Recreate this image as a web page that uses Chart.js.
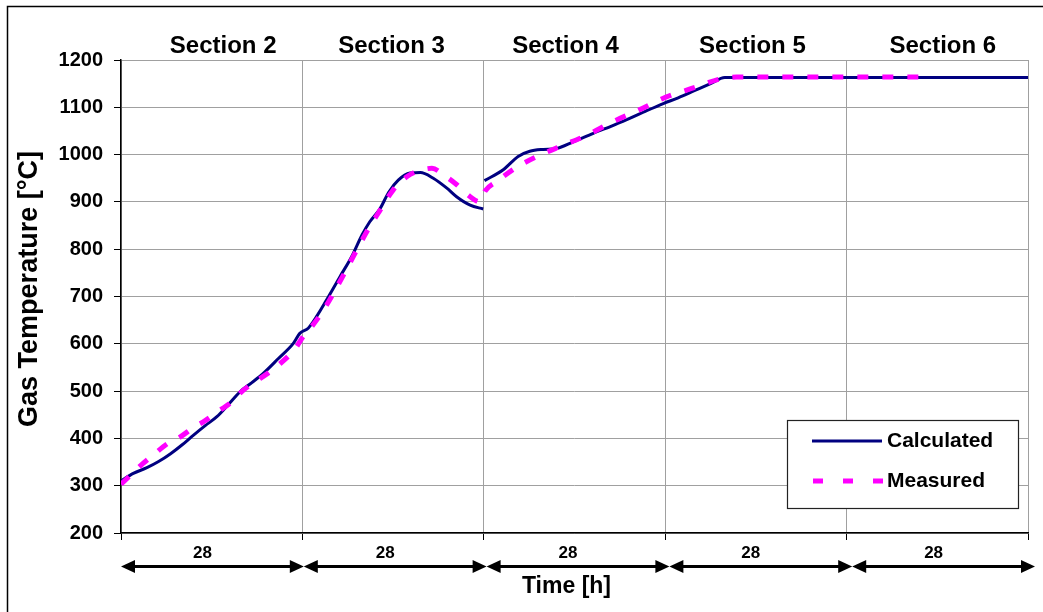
<!DOCTYPE html>
<html>
<head>
<meta charset="utf-8">
<script src="https://cdn.jsdelivr.net/npm/chart.js@4.4.1/dist/chart.umd.min.js"></script>
<style>
  html, body { margin: 0; padding: 0; background: #ffffff; }
  canvas { display: block; }
</style>
</head>
<body>
<canvas id="chart" width="1043" height="612"></canvas>
<script>
// ---- data ----
const sectionNames = ['Section 2', 'Section 3', 'Section 4', 'Section 5', 'Section 6'];
const sectionHours = [28, 28, 28, 28, 28];

const tempMin = 200;
const tempMax = 1200;
const tempStep = 100;

// calculated gas temperature (null marks the jump at the start of section 4)
const calcTime = [0, 1.9, 4, 5.8, 7.6, 9.4, 11.2, 13, 14.8, 16.6, 18.4, 20.2, 22, 24.3, 26.6, 27.6, 28.9, 30.3,
  31.7, 33.8, 35.6, 37.2, 38.4, 40, 41.3, 42.8, 44.6, 46.2, 48.2, 50.3, 51.8, 53.9, 55.9,
  56, 56.1, 59, 61.3, 63.1, 65.2, 67.2, 69.8, 72.9, 76, 78.6, 81, 83.7, 86, 88.5, 91, 93.2,
  100, 110, 120, 130, 140];
const calcTemp = [310, 326, 338, 351, 367, 386, 407, 427, 446, 472, 499, 518, 538, 569, 601, 622, 633, 660,
  692, 742, 784, 830, 858, 886, 920, 946, 961, 962, 950, 929, 911, 893, 885,
  null, 945, 968, 996, 1007, 1011, 1013, 1027, 1045, 1062, 1077, 1092, 1108, 1120, 1135, 1150, 1163,
  1163, 1163, 1163, 1163, 1163];

// measured gas temperature
const measTime = [0, 3.4, 5, 7.3, 8.8, 11.4, 12.7, 15.3, 16.8, 18.9, 20.4, 22.7, 24.3, 26.9, 28.1, 28.7,
  31.2, 34.6, 36.1, 38.4, 39.7, 42, 44.1, 46, 48, 50, 51.6, 53.9, 55.4, 56.2, 58.2, 60.8,
  64.7, 68.3, 71.9, 76, 79.9, 84.2, 88.6, 92.5, 95, 100, 110, 125];
const measTemp = [303, 347, 365, 390, 400, 425, 435, 460, 474, 502, 517, 538, 555, 590, 615, 624,
  670, 752, 791, 848, 876, 925, 953, 966, 971, 955, 939, 911, 900, 923, 945, 971,
  999, 1020, 1041, 1070, 1094, 1122, 1142, 1160, 1164, 1164, 1164, 1164];

// ---- derived ----
const toPoints = (xs, ys) => xs.map((t, i) => ({ x: t, y: ys[i] }));
const sectionBounds = sectionHours.reduce((acc, h) => { acc.push(acc[acc.length - 1] + h); return acc; }, [0]);
const totalHours = sectionBounds[sectionBounds.length - 1];

const FONT = "'Liberation Sans', Arial, Helvetica, sans-serif";
const GRID = '#a0a0a0';
const CALC_COLOR = '#000080';
const MEAS_COLOR = '#ff00ff';

// small horizontal nudges for the section headings
const headingNudge = [11.5, -1.5, -9, -3.5, 5.5];

function arrowHead(ctx, tipX, yy, dir) {
  ctx.beginPath();
  ctx.moveTo(tipX, yy);
  ctx.lineTo(tipX + dir * 14, yy - 6.5);
  ctx.lineTo(tipX + dir * 14, yy + 6.5);
  ctx.closePath();
  ctx.fill();
}

const decorations = {
  id: 'decorations',
  afterDraw(chart) {
    const { ctx, scales: { x } } = chart;
    ctx.save();

    // outer frame
    ctx.strokeStyle = '#000';
    ctx.lineWidth = 1.5;
    ctx.strokeRect(7.5, 6.5, 2000, 2000);

    ctx.fillStyle = '#000';

    // section headings
    ctx.font = 'bold 24px ' + FONT;
    ctx.textAlign = 'center';
    ctx.textBaseline = 'alphabetic';
    sectionNames.forEach((name, i) => {
      const cx = (x.getPixelForValue(sectionBounds[i]) + x.getPixelForValue(sectionBounds[i + 1])) / 2;
      ctx.fillText(name, cx + headingNudge[i], 53);
    });

    // duration arrows under the axis
    const ay = 566.5;
    const stretch = 7 / totalHours;
    const tip = v => x.getPixelForValue(v) + v * stretch;
    ctx.lineWidth = 3;
    ctx.strokeStyle = '#000';
    ctx.font = 'bold 17px ' + FONT;
    sectionHours.forEach((h, i) => {
      const x0 = tip(sectionBounds[i]);
      const x1 = tip(sectionBounds[i + 1]);
      ctx.beginPath();
      ctx.moveTo(x0 + 10, ay);
      ctx.lineTo(x1 - 10, ay);
      ctx.stroke();
      arrowHead(ctx, x0, ay, 1);
      arrowHead(ctx, x1, ay, -1);
      ctx.fillText(String(h), (x0 + x1) / 2 - 10, 558);
    });

    // x axis title
    ctx.font = 'bold 23px ' + FONT;
    ctx.fillText('Time [h]', 566.5, 593);

    // y axis title
    ctx.save();
    ctx.translate(37, 289);
    ctx.rotate(-Math.PI / 2);
    ctx.font = 'bold 27px ' + FONT;
    ctx.fillText('Gas Temperature [\u00B0C]', 0, 0);
    ctx.restore();

    // legend
    const lx = 787.5, ly = 420.5, lw = 231, lh = 88;
    ctx.fillStyle = '#fff';
    ctx.fillRect(lx, ly, lw, lh);
    ctx.strokeStyle = '#222';
    ctx.lineWidth = 1.2;
    ctx.strokeRect(lx, ly, lw, lh);

    const ds = chart.data.datasets;
    ctx.lineCap = 'butt';
    ctx.strokeStyle = ds[0].borderColor;
    ctx.lineWidth = ds[0].borderWidth;
    ctx.beginPath();
    ctx.moveTo(812, 441);
    ctx.lineTo(882, 441);
    ctx.stroke();

    ctx.strokeStyle = ds[1].borderColor;
    ctx.lineWidth = ds[1].borderWidth;
    ctx.setLineDash([10, 20]);
    ctx.beginPath();
    ctx.moveTo(813, 481);
    ctx.lineTo(883, 481);
    ctx.stroke();
    ctx.setLineDash([]);

    ctx.fillStyle = '#000';
    ctx.textAlign = 'left';
    ctx.font = 'bold 21px ' + FONT;
    ctx.fillText(ds[0].label, 887, 447);
    ctx.fillText(ds[1].label, 887, 487);

    ctx.restore();
  }
};

new Chart(document.getElementById('chart'), {
  type: 'line',
  data: {
    datasets: [
      {
        label: 'Calculated',
        data: toPoints(calcTime, calcTemp),
        borderColor: CALC_COLOR,
        borderWidth: 3,
        pointRadius: 0,
        spanGaps: false,
        cubicInterpolationMode: 'monotone',
        order: 1
      },
      {
        label: 'Measured',
        data: toPoints(measTime, measTemp),
        borderColor: MEAS_COLOR,
        borderWidth: 5,
        borderDash: [11, 14],
        borderCapStyle: 'butt',
        pointRadius: 0,
        cubicInterpolationMode: 'monotone',
        order: 0
      }
    ]
  },
  options: {
    responsive: false,
    animation: false,
    devicePixelRatio: 1,
    layout: { padding: { left: 0, top: 60, right: 15, bottom: 72 } },
    plugins: {
      legend: { display: false },
      tooltip: { enabled: false },
      title: { display: false }
    },
    scales: {
      x: {
        type: 'linear',
        min: 0,
        max: totalHours,
        ticks: { display: false, stepSize: sectionHours[0] },
        grid: { color: GRID, lineWidth: 1, drawTicks: true, tickLength: 7, tickColor: '#000', tickWidth: 1 },
        border: { color: '#000', width: 1.5 },
        afterFit(scale) { scale.height = 7; }
      },
      y: {
        min: tempMin,
        max: tempMax,
        ticks: {
          stepSize: tempStep,
          color: '#000',
          padding: 11,
          font: { family: FONT, weight: 'bold', size: 20 },
          callback: v => String(v)
        },
        grid: { color: GRID, lineWidth: 1, drawTicks: true, tickLength: 7, tickColor: '#000', tickWidth: 1 },
        border: { color: '#000', width: 1.5 },
        afterFit(scale) { scale.width = 121; }
      }
    }
  },
  plugins: [decorations]
});
</script>
</body>
</html>
